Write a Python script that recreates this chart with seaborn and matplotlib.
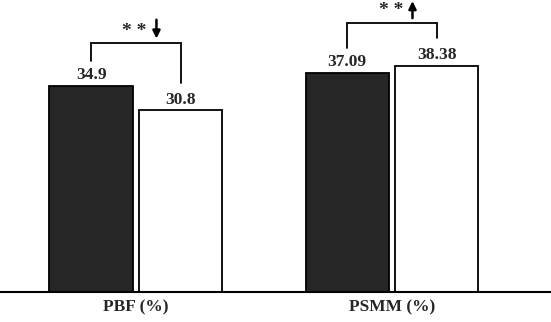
import pandas as pd
import matplotlib
matplotlib.use("Agg")
import matplotlib.pyplot as plt
import seaborn as sns

# data
categories = ["PBF (%)", "PSMM (%)"]
groups = ["Before", "After"]
before_vals = [34.9, 37.09]
after_vals = [30.8, 38.38]
value_labels_before = ["34.9", "37.09"]
value_labels_after = ["30.8", "38.38"]
sig_marks = ["* *", "* *"]
arrows = ["down", "up"]

df = pd.DataFrame({
    "measure": categories * 2,
    "group": [groups[0]] * 2 + [groups[1]] * 2,
    "value": before_vals + after_vals,
})

sns.set_style("white")
plt.rcParams["font.family"] = ["Liberation Serif", "DejaVu Serif"]
plt.rcParams["font.weight"] = "bold"

fig = plt.figure(figsize=(5.51, 3.22), dpi=100)
ax = fig.add_axes([0, 0.0932, 1, 0.9068])

sns.barplot(data=df, x="measure", y="value", hue="group", order=categories,
            hue_order=groups, palette=["#262626", "white"], edgecolor="black",
            linewidth=1.3, width=0.70, gap=0.07, legend=False, ax=ax)

ax.set_xlim(-0.531, 1.621)
ax.set_ylim(0, 49.5)
ax.set_xlabel("")
ax.set_ylabel("")
ax.set_yticks([])
ax.tick_params(axis="x", length=0, pad=5, labelsize=12.5)
for lab in ax.get_xticklabels():
    lab.set_fontweight("bold")
for s in ["left", "top", "right"]:
    ax.spines[s].set_visible(False)
ax.spines["bottom"].set_linewidth(1.5)
ax.spines["bottom"].set_color("black")

off = 0.175
for i in range(len(categories)):
    b, a = before_vals[i], after_vals[i]
    xl, xr = i - off, i + off
    # value labels
    ax.text(xl, b + 1.15, value_labels_before[i], ha="center", va="baseline",
            fontsize=12.5, fontweight="bold")
    ax.text(xr, a + 1.15, value_labels_after[i], ha="center", va="baseline",
            fontsize=12.5, fontweight="bold")
    # bracket
    top = max(b, a) + 7.25
    ax.plot([xl, xl, xr, xr], [b + 4.3, top, top, a + 4.6], color="black",
            lw=1.3, solid_joinstyle="miter")
    ax.text(i - 0.005, top + 0.6, sig_marks[i], ha="center", va="bottom",
            fontsize=14, fontweight="bold")
    # arrow
    ax_x = i + 0.08
    if arrows[i] == "down":
        start, end = top + 4.0, top + 0.8
    else:
        start, end = top + 0.8, top + 3.7
    ax.annotate("", xy=(ax_x, end), xytext=(ax_x, start),
                arrowprops=dict(arrowstyle="-|>,head_width=0.22,head_length=0.45",
                                color="black", lw=1.8, shrinkA=0, shrinkB=0))

fig.savefig("out.png", dpi=100)
